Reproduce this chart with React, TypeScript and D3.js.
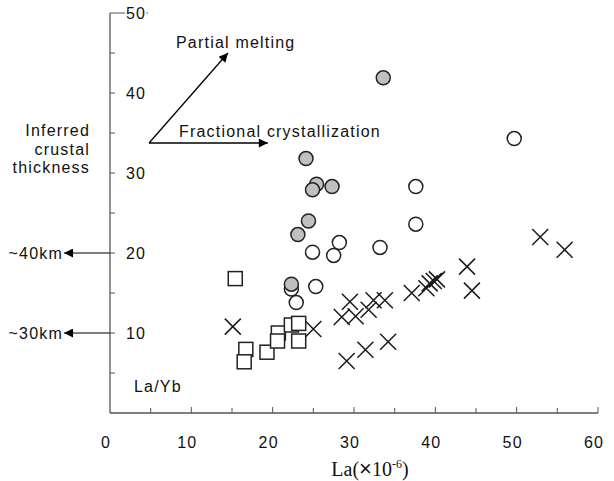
import { useEffect, useRef } from 'react';
import * as d3 from 'd3';

// data (La in ppm, La/Yb ratio)
const grayCircles: [number, number][] = [
  [33.6, 41.9], [24.1, 31.8], [25.4, 28.6], [24.9, 27.9], [27.3, 28.3],
  [24.4, 24.0], [23.1, 22.3], [22.3, 16.1],
];
const openCircles: [number, number][] = [
  [49.7, 34.3], [37.6, 28.3], [37.6, 23.6], [28.2, 21.3], [24.9, 20.1],
  [27.5, 19.7], [33.2, 20.7], [25.3, 15.8], [22.3, 15.5], [22.9, 13.8],
];
const squares: [number, number][] = [
  [15.4, 16.8], [16.7, 7.95], [16.5, 6.4], [19.3, 7.6], [20.7, 10.0],
  [20.6, 9.0], [22.3, 11.0], [23.2, 11.2], [23.2, 9.0],
];
const crosses: [number, number][] = [
  [15.1, 10.8], [25.0, 10.5], [28.5, 12.0], [29.5, 13.9], [30.2, 12.1],
  [31.8, 12.9], [32.4, 14.1], [33.8, 14.1], [37.1, 15.0], [38.9, 15.6],
  [39.3, 16.2], [39.8, 16.5], [40.2, 16.7], [43.9, 18.3], [44.5, 15.3],
  [52.9, 22.0], [55.9, 20.4], [29.1, 6.5], [31.4, 7.9], [34.2, 8.9],
];
const xTicks = [0, 10, 20, 30, 40, 50, 60];
const yTicks = [10, 20, 30, 40, 50];
const thicknessMarks = [
  { label: '~40km', value: 20 },
  { label: '~30km', value: 10 },
];
const trendOrigin: [number, number] = [4.8, 33.75];
const partialMeltEnd: [number, number] = [14.5, 45.0];
const fracCrystEnd: [number, number] = [19.4, 33.75];

const W = 614;
const H = 481;
const SANS = '"Liberation Sans", Arial, sans-serif';
const LS = '1.2px';

export default function App() {
  const svgRef = useRef<SVGSVGElement>(null);

  useEffect(() => {
    if (!svgRef.current) return;
    const svg = d3.select(svgRef.current);
    svg.selectAll('*').remove();

    const x = d3.scaleLinear().domain([0, 60]).range([110, 598]);
    const y = d3.scaleLinear().domain([0, 50]).range([413, 13]);
    const axisColor = '#555';

    const defs = svg.append('defs');
    defs
      .append('marker')
      .attr('id', 'arrow')
      .attr('viewBox', '0 0 10 10')
      .attr('refX', 10)
      .attr('refY', 5)
      .attr('markerWidth', 11)
      .attr('markerHeight', 9)
      .attr('markerUnits', 'userSpaceOnUse')
      .attr('orient', 'auto')
      .append('path')
      .attr('d', 'M0,0 L10,5 L0,10 Z')
      .attr('fill', '#000');

    const g = svg.append('g');

    // axis lines
    g.append('line')
      .attr('x1', x(0)).attr('x2', x(0))
      .attr('y1', y(0)).attr('y2', y(50))
      .attr('stroke', axisColor).attr('stroke-width', 1.3);
    g.append('line')
      .attr('x1', x(0)).attr('x2', x(60))
      .attr('y1', y(0)).attr('y2', y(0))
      .attr('stroke', axisColor).attr('stroke-width', 1.3);

    // ticks, all pointing inward
    const xt = d3.range(5, 61, 5);
    g.selectAll('.xtick')
      .data(xt)
      .enter()
      .append('line')
      .attr('x1', (d) => x(d)).attr('x2', (d) => x(d))
      .attr('y1', y(0)).attr('y2', (d) => y(0) - (d % 10 === 0 ? 6 : 5))
      .attr('stroke', axisColor).attr('stroke-width', 1);
    const yt = d3.range(5, 50, 5);
    g.selectAll('.ytick')
      .data(yt)
      .enter()
      .append('line')
      .attr('x1', x(0)).attr('x2', x(0) + 5)
      .attr('y1', (d) => y(d)).attr('y2', (d) => y(d))
      .attr('stroke', axisColor).attr('stroke-width', 1);
    // top tick at 50 runs through the label
    g.append('line')
      .attr('x1', x(0)).attr('x2', x(0) + 38)
      .attr('y1', y(50)).attr('y2', y(50))
      .attr('stroke', axisColor).attr('stroke-width', 1);

    g.selectAll('.xlab')
      .data(xTicks)
      .enter()
      .append('text')
      .attr('x', (d) => x(d) - 4)
      .attr('y', 448)
      .attr('text-anchor', 'middle')
      .style('font-family', SANS)
      .style('font-size', '16px')
      .style('letter-spacing', LS)
      .attr('fill', '#111')
      .text((d) => d);

    g.selectAll('.ylab')
      .data(yTicks)
      .enter()
      .append('text')
      .attr('x', 126)
      .attr('y', (d) => y(d))
      .attr('dy', '0.36em')
      .style('font-family', SANS)
      .style('font-size', '16px')
      .style('letter-spacing', LS)
      .attr('fill', '#111')
      .attr('stroke', '#fff')
      .attr('stroke-width', 4)
      .style('paint-order', 'stroke')
      .text((d) => d);

    // axis titles
    const xt2 = g.append('text')
      .attr('x', 370)
      .attr('y', 476)
      .attr('text-anchor', 'middle')
      .style('font-family', '"Liberation Serif", "Times New Roman", serif')
      .style('font-size', '20px')
      .attr('fill', '#111');
    xt2.append('tspan').text('La(');
    xt2.append('tspan').style('font-family', SANS).style('font-size', '22px').text('×');
    xt2.append('tspan').text('10');
    xt2.append('tspan').attr('dy', -8).style('font-size', '12px').text('-6');
    xt2.append('tspan').attr('dy', 8).text(')');

    g.append('text')
      .attr('x', 134)
      .attr('y', 392)
      .style('font-family', SANS)
      .style('font-size', '16px')
      .style('letter-spacing', LS)
      .attr('fill', '#111')
      .text('La/Yb');

    // crustal thickness annotation
    const inf = g.append('text')
      .attr('text-anchor', 'end')
      .style('font-family', SANS)
      .style('font-size', '16px')
      .style('letter-spacing', LS)
      .attr('fill', '#111');
    ['Inferred', 'crustal', 'thickness'].forEach((t, i) => {
      inf.append('tspan').attr('x', 90).attr('y', 136 + i * 18.5).text(t);
    });
    thicknessMarks.forEach((m) => {
      g.append('line')
        .attr('x1', x(0)).attr('x2', 64)
        .attr('y1', y(m.value)).attr('y2', y(m.value))
        .attr('stroke', '#000').attr('stroke-width', 1.2)
        .attr('marker-end', 'url(#arrow)');
      g.append('text')
        .attr('x', 63)
        .attr('y', y(m.value))
        .attr('dy', '0.36em')
        .attr('text-anchor', 'end')
        .style('font-family', SANS)
        .style('font-size', '16px')
        .style('letter-spacing', LS)
        .attr('fill', '#111')
        .text(m.label);
    });

    // trend arrows
    [partialMeltEnd, fracCrystEnd].forEach((end) => {
      g.append('line')
        .attr('x1', x(trendOrigin[0])).attr('y1', y(trendOrigin[1]))
        .attr('x2', x(end[0])).attr('y2', y(end[1]))
        .attr('stroke', '#000').attr('stroke-width', 1.3)
        .attr('marker-end', 'url(#arrow)');
    });
    g.append('text')
      .attr('x', 176).attr('y', 48)
      .style('font-family', SANS).style('font-size', '16px')
      .style('letter-spacing', LS)
      .attr('fill', '#111')
      .text('Partial melting');
    g.append('text')
      .attr('x', 179).attr('y', 137)
      .style('font-family', SANS).style('font-size', '16px')
      .style('letter-spacing', LS)
      .attr('fill', '#111')
      .text('Fractional crystallization');

    // data markers
    const pts = g.append('g');
    const cs = 8;
    crosses.forEach(([a, b]) => {
      const cx = x(a);
      const cy = y(b);
      pts.append('path')
        .attr('d', `M${cx - cs},${cy - cs}L${cx + cs},${cy + cs}M${cx - cs},${cy + cs}L${cx + cs},${cy - cs}`)
        .attr('stroke', '#1a1a1a').attr('stroke-width', 1.5).attr('fill', 'none');
    });
    pts.selectAll('.sq')
      .data(squares)
      .enter()
      .append('rect')
      .attr('x', (d) => x(d[0]) - 7)
      .attr('y', (d) => y(d[1]) - 7)
      .attr('width', 14).attr('height', 14)
      .attr('fill', '#fff').attr('stroke', '#222').attr('stroke-width', 1.5);
    pts.selectAll('.oc')
      .data(openCircles)
      .enter()
      .append('circle')
      .attr('cx', (d) => x(d[0]))
      .attr('cy', (d) => y(d[1]))
      .attr('r', 7)
      .attr('fill', '#fff').attr('stroke', '#222').attr('stroke-width', 1.5);
    pts.selectAll('.gc')
      .data(grayCircles)
      .enter()
      .append('circle')
      .attr('cx', (d) => x(d[0]))
      .attr('cy', (d) => y(d[1]))
      .attr('r', 7)
      .attr('fill', '#c0c0c0').attr('stroke', '#222').attr('stroke-width', 1.5);
  }, []);

  return (
    <div style={{ position: 'absolute', left: 0, top: 0, width: W, height: H, background: '#fff' }}>
      <svg ref={svgRef} width={W} height={H} />
    </div>
  );
}
